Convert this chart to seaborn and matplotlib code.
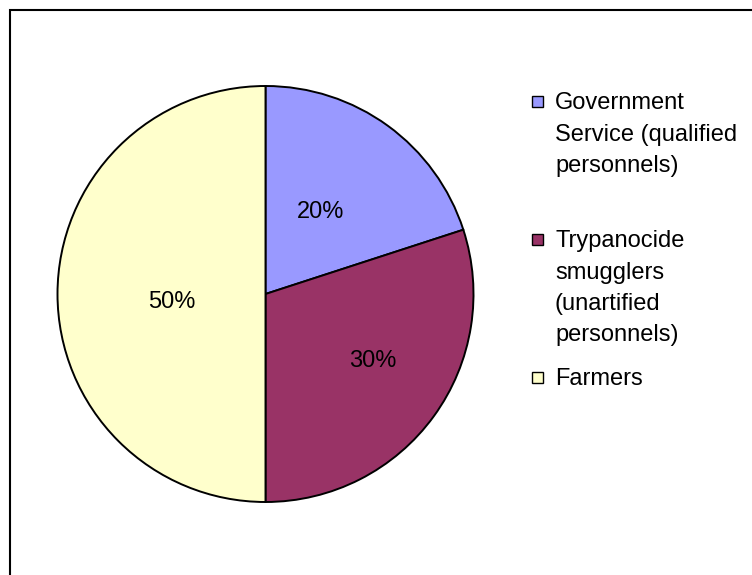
import matplotlib
matplotlib.use("Agg")
import matplotlib.pyplot as plt
import matplotlib.patches as mpatches
import numpy as np
import seaborn as sns

# ---- data ----
categories = [
    "Government\nService (qualified\npersonnels)",
    "Trypanocide\nsmugglers\n(unartified\npersonnels)",
    "Farmers",
]
shares = [20, 30, 50]
colors = ["#9999FF", "#993366", "#FFFFCC"]

sns.set_theme(style="white")
plt.rcParams["font.family"] = ["Liberation Sans", "DejaVu Sans"]

W, H = 752, 575
fig = plt.figure(figsize=(W / 100, H / 100), dpi=100)
fig.patch.set_facecolor("white")

# pie axes: centre (265.5, 294) px, radius 208 px
cx, cy, R = 265.5, 294.0, 208.0
half = 212.0
ax = fig.add_axes([(cx - half) / W, (H - cy - half) / H, 2 * half / W, 2 * half / H])

palette = sns.color_palette(colors)
wedges, texts, autotexts = ax.pie(
    shares,
    colors=palette,
    startangle=90,
    counterclock=False,
    autopct="%1.0f%%",
    pctdistance=0.5,
    wedgeprops=dict(edgecolor="black", linewidth=1.4),
    textprops=dict(fontsize=17, color="black"),
)
lim = half / R
ax.set_xlim(-lim, lim)
ax.set_ylim(-lim, lim)
ax.set_aspect("equal")
ax.axis("off")

# label radii per slice (Excel-style placement)
label_r = [0.475, 0.61, 0.45]
label_da = [2, 4, 5]
for w, t, r, da in zip(wedges, autotexts, label_r, label_da):
    mid = np.deg2rad((w.theta1 + w.theta2) / 2 + da)
    t.set_position((r * np.cos(mid), r * np.sin(mid)))
    t.set_ha("center")
    t.set_va("center")

# ---- legend (markers aligned with first line of each entry) ----
first_baselines = [109, 247, 385]
line_step = 31.5
text_x = 555
sq = 11
for label, col, b0 in zip(categories, palette, first_baselines):
    fig.patches.append(
        mpatches.Rectangle(
            (532 / W, (H - (b0 - 2)) / H), sq / W, sq / H,
            transform=fig.transFigure, facecolor=col, edgecolor="black",
            linewidth=1.0, figure=fig,
        )
    )
    for i, line in enumerate(label.split("\n")):
        fig.text(text_x / W, (H - (b0 + i * line_step)) / H, line,
                 fontsize=17, color="black", ha="left", va="baseline")

# ---- outer frame (partially off-canvas, as in the reference) ----
fig.patches.append(
    mpatches.Rectangle(
        (9.5 / W, -0.1), 2.0, (H - 10) / H + 0.1,
        transform=fig.transFigure, fill=False, edgecolor="black",
        linewidth=1.5, figure=fig,
    )
)

fig.savefig("out.png", dpi=100, facecolor="white")
